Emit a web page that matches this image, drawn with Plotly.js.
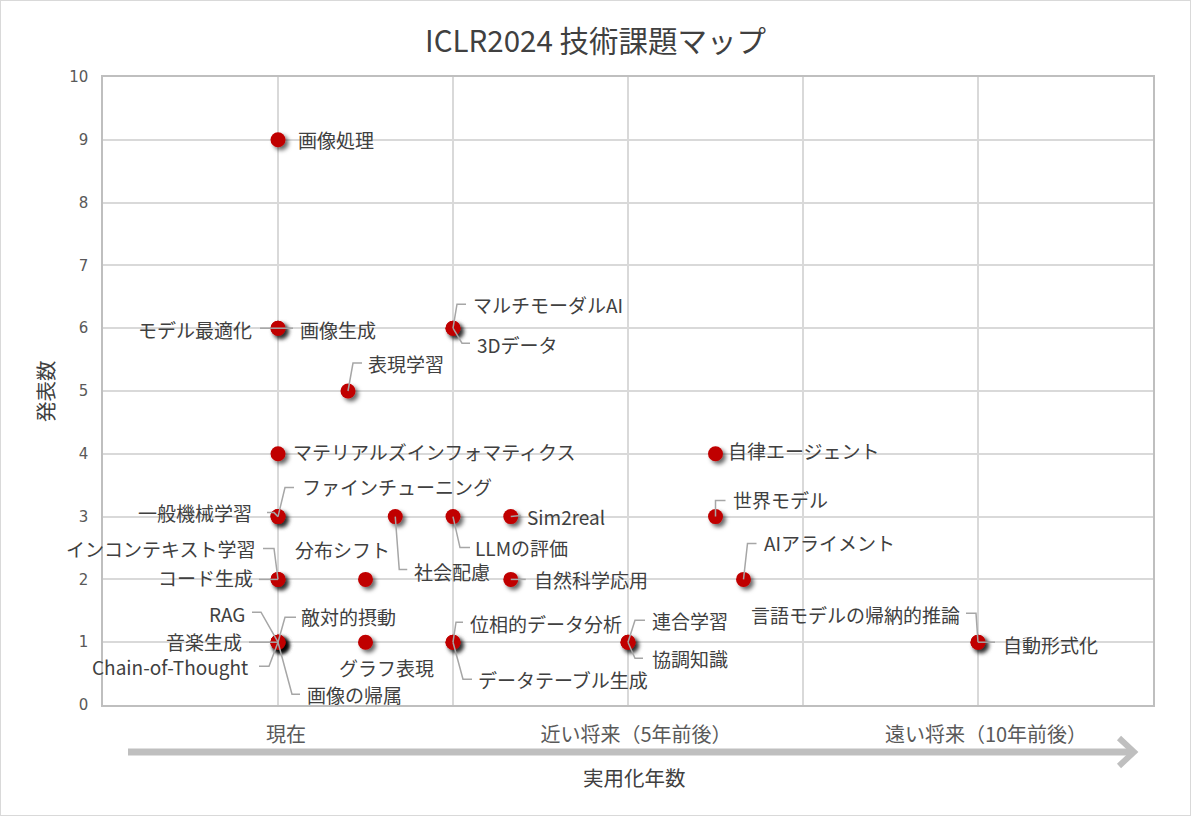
<!DOCTYPE html>
<html>
<head>
<meta charset="utf-8">
<script src="https://cdn.plot.ly/plotly-3.0.1.min.js"></script>
<style>
  html, body { margin: 0; padding: 0; background: #fff; }
  #wrap { position: relative; width: 1191px; height: 816px; }
  #chart { width: 1191px; height: 816px; }
  #frame { position: absolute; left: 0; top: 0; width: 1189px; height: 814px; border: 1px solid #d9d9d9; pointer-events: none; }
  .scatterlayer .point { filter: url(#dotShadow); }
</style>
</head>
<body>
<svg width="0" height="0" style="position:absolute">
  <defs>
    <filter id="dotShadow" x="-60%" y="-60%" width="240%" height="240%">
      <feDropShadow dx="3" dy="3" stdDeviation="2" flood-color="#000" flood-opacity="0.6"/>
    </filter>
  </defs>
</svg>
<div id="wrap">
  <div id="chart"></div>
  <div id="frame"></div>
</div>
<script>
// テーマ名・実用化年数・発表数
const topics = [
  "画像処理", "モデル最適化", "画像生成", "マルチモーダルAI", "3Dデータ",
  "表現学習", "マテリアルズインフォマティクス", "自律エージェント",
  "一般機械学習", "ファインチューニング", "社会配慮", "LLMの評価", "Sim2real", "世界モデル",
  "インコンテキスト学習", "コード生成", "分布シフト", "自然科学応用", "AIアライメント",
  "RAG", "音楽生成", "Chain-of-Thought", "敵対的摂動", "画像の帰属",
  "グラフ表現", "位相的データ分析", "データテーブル生成", "連合学習", "協調知識",
  "言語モデルの帰納的推論", "自動形式化"
];
const yearsX = [
  1, 1, 1, 2, 2,
  1.4, 1, 3.5,
  1, 1, 1.67, 2, 2.33, 3.5,
  1, 1, 1.5, 2.33, 3.66,
  1, 1, 1, 1, 1,
  1.5, 2, 2, 3, 3,
  5, 5
];
const papers = [
  9, 6, 6, 6, 6,
  5, 4, 4,
  3, 3, 3, 3, 3, 3,
  2, 2, 2, 2, 2,
  1, 1, 1, 1, 1,
  1, 1, 1, 1, 1,
  1, 1
];
const xTickVals = [0, 1, 2, 3, 4, 5, 6];
const xTickText = ["", "現在", "", "近い将来（5年前後）", "", "遠い将来（10年前後）", ""];

// ラベル配置: [向き, x方向オフセット, y方向オフセット(下向き+), 引き出し線]
const labelPlace = [
  ["r", 18, 0, null],
  ["l", -24, 1, [[-18, 0]]],
  ["r", 20, 1, [[15, 0]]],
  ["r", 18, -24, [[4, -24], [13, -24]]],
  ["r", 22, 16, [[9, 15], [17, 15]]],
  ["r", 18, -28, [[5, -28], [14, -28]]],
  ["r", 13, -2, null],
  ["r", 10, -3, null],
  ["l", -24, -4, [[-4, -4], [-11, -4]]],
  ["r", 22, -30, [[7, -29], [16, -29]]],
  ["r", 17, 55, [[4, 53], [12, 53]]],
  ["r", 20, 31, [[7, 31], [17, 31]]],
  ["r", 14, 0, [[10, -1]]],
  ["r", 15, -17, [[0, -16], [10, -16]]],
  ["l", -21, -31, [[-4, -31], [-15, -31]]],
  ["l", -23, -2, [[-19, 0]]],
  ["c", -23, -30, null],
  ["r", 21, 0, [[15, 0]]],
  ["r", 18, -37, [[4, -36], [13, -36]]],
  ["l", -31, -29, [[-17, -30], [-26, -30]]],
  ["l", -34, -1, [[-29, 0]]],
  ["l", -28, 24, [[-9, 24], [-19, 24]]],
  ["r", 21, -26, [[7, -25], [18, -25]]],
  ["r", 27, 52, [[14, 52], [22, 52]]],
  ["c", 21, 25, null],
  ["r", 15, -19, [[3, -20], [10, -20]]],
  ["r", 23, 37, [[10, 37], [19, 37]]],
  ["r", 22, -22, [[7, -22], [17, -22]]],
  ["r", 22, 16, [[7, 16], [15, 16]]],
  ["l", -16, -28, [[-2, -29], [-12, -29]]],
  ["r", 23, 2, [[17, 0]]]
];

const JP = "Noto Sans CJK JP, sans-serif";
const M = { l: 103, r: 38, t: 77, b: 111 };
const plotW = 1191 - M.l - M.r, plotH = 816 - M.t - M.b;
const px = (x) => (x - M.l) / plotW;
const py = (y) => (816 - M.b - y) / plotH;

const annotations = [];
const shapes = [];

topics.forEach((name, i) => {
  const [side, ox, dy, leader] = labelPlace[i];
  annotations.push({
    x: yearsX[i], y: papers[i], xref: "x", yref: "y",
    text: name, showarrow: false,
    xanchor: side === "l" ? "right" : side === "r" ? "left" : "center",
    yanchor: "middle", xshift: ox, yshift: -dy,
    font: { family: JP, size: 19, color: "#404040" }
  });
  if (leader) {
    shapes.push({
      type: "path", xref: "x", yref: "y",
      xsizemode: "pixel", ysizemode: "pixel",
      xanchor: yearsX[i], yanchor: papers[i],
      path: "M0,0 L" + leader.map(p => p[0] + "," + (-p[1])).join(" L"),
      line: { color: "#a6a6a6", width: 1.5 }
    });
  }
});

// 横軸の矢印
shapes.push({
  type: "line", xref: "paper", yref: "paper",
  x0: px(128), x1: px(1131), y0: py(752), y1: py(752),
  line: { color: "#bfbfbf", width: 7 }
});
shapes.push({
  type: "path", xref: "paper", yref: "paper",
  path: `M${px(1119)},${py(738)} L${px(1134)},${py(752)} L${px(1119)},${py(766)}`,
  line: { color: "#bfbfbf", width: 6 }
});

annotations.push({
  x: px(634), y: py(777), xref: "paper", yref: "paper",
  text: "実用化年数", showarrow: false, xanchor: "center", yanchor: "middle",
  font: { family: JP, size: 20.5, color: "#404040" }
});
annotations.push({
  x: px(45), y: 0.5, xref: "paper", yref: "paper",
  text: "発表数", showarrow: false, textangle: -90, xanchor: "center", yanchor: "middle",
  font: { family: JP, size: 20.5, color: "#404040" }
});

Plotly.newPlot("chart", [{
  x: yearsX,
  y: papers,
  mode: "markers",
  type: "scatter",
  marker: { color: "#c00000", size: 15 },
  hoverinfo: "text",
  text: topics,
  cliponaxis: false
}], {
  width: 1191, height: 816,
  margin: M,
  paper_bgcolor: "#fff", plot_bgcolor: "#fff",
  showlegend: false,
  title: {
    text: "ICLR2024 技術課題マップ",
    x: 0.5, xanchor: "center",
    y: 1 - 42 / 816, yref: "container", yanchor: "middle",
    font: { family: JP, size: 29.5, color: "#404040" }
  },
  xaxis: {
    range: [0, 6], tickvals: xTickVals, ticktext: xTickText,
    showgrid: true, gridcolor: "#d9d9d9", gridwidth: 1.5,
    zeroline: false, showline: true, mirror: true, linecolor: "#bfbfbf", linewidth: 1.5,
    ticks: "", ticklabelstandoff: 11, ticklabelshift: 8,
    tickfont: { family: JP, size: 20, color: "#595959" }
  },
  yaxis: {
    range: [0, 10], dtick: 1,
    showgrid: true, gridcolor: "#d9d9d9", gridwidth: 1.5,
    zeroline: false, showline: true, mirror: true, linecolor: "#bfbfbf", linewidth: 1.5,
    ticks: "", ticklabelstandoff: 10,
    tickfont: { family: "DejaVu Sans, sans-serif", size: 15, color: "#595959" }
  },
  annotations: annotations,
  shapes: shapes
}, { displayModeBar: false });
</script>
</body>
</html>
